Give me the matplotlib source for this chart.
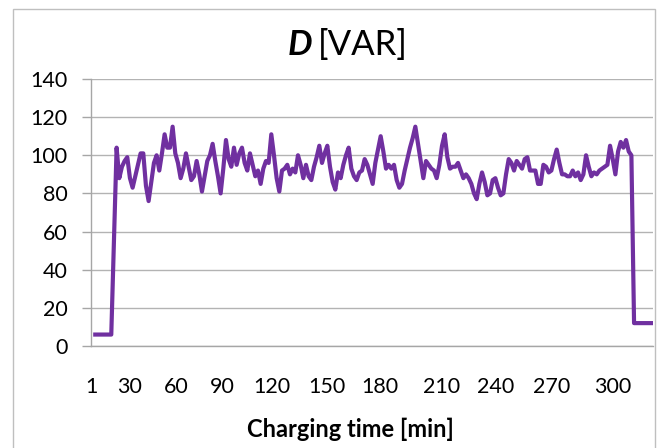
import numpy as np
import matplotlib.pyplot as plt
from matplotlib.patches import Rectangle

plt.rcParams['font.family'] = ['Lato', 'DejaVu Sans']

# D [VAR], one sample per category
start_flat = [6, 6, 6, 6, 6, 6, 6, 55]
charging = [
    104, 88, 94, 97, 99, 88, 83, 89, 95, 101,
    101, 84, 76, 86, 96, 100, 92, 101, 111, 104,
    104, 115, 101, 96, 88, 93, 101, 94, 87, 89,
    97, 90, 81, 89, 97, 100, 106, 97, 89, 80,
    93, 108, 98, 94, 104, 95, 101, 104, 96, 92,
    101, 95, 89, 92, 85, 93, 97, 96, 111, 100,
    88, 81, 92, 93, 95, 90, 93, 91, 100, 95,
    88, 95, 89, 87, 94, 99, 105, 96, 101, 105,
    94, 86, 82, 91, 88, 95, 100, 104, 93, 89,
    87, 91, 92, 98, 95, 90, 85, 96, 103, 110,
    102, 93, 95, 93, 95, 87, 83, 85, 92, 98,
    104, 109, 115, 106, 97, 88, 97, 95, 93, 92,
    88, 95, 105, 111, 99, 93, 94, 94, 96, 92,
    88, 90, 88, 85, 80, 77, 85, 91, 86, 79,
    80, 87, 88, 83, 79, 80, 90, 98, 96, 92,
    97, 95, 93, 98, 99, 92, 92, 92, 85, 85,
    95, 94, 91, 92, 98, 103, 96, 90, 90, 89,
    89, 92, 89, 91, 87, 90, 100, 94, 89, 91,
    90, 92, 93, 94, 95, 105, 98, 90, 102, 107,
    104, 108, 102, 100,
]
end_flat = [12, 12, 12, 12, 12, 12, 12, 12]

values = start_flat + charging + end_flat
samples = np.arange(len(values))

# category positions where Excel put the time labels
tick_pos = [-1.6, 13.0, 30.2, 47.5, 66.2, 86.8, 106.7, 130.0, 150.2, 171.2, 194.1]
tick_lab = ["1", "30", "60", "90", "120", "150", "180", "210", "240", "270", "300"]

fig = plt.figure(figsize=(6.6, 4.48), dpi=100)
ax = fig.add_axes([91 / 660, 1 - 346 / 448, 562 / 660, 267 / 448])

# outer chart frame (bottom edge is cut off in the original)
fig.patches.append(Rectangle((13 / 660, -0.1), 641.5 / 660, 1.1 - 9 / 448,
                             transform=fig.transFigure, fill=False,
                             edgecolor="#BFBFBF", linewidth=1.0))

ax.plot(samples, values, color="#7030A0", linewidth=3.0, solid_joinstyle="round")

ax.set_xlim(-1.6, 209.1)
ax.set_ylim(0, 140)
ax.set_yticks(np.arange(0, 141, 20))
ax.set_xticks(tick_pos)
ax.set_xticklabels(tick_lab)

ax.grid(axis="y", color="#B3B3B3", linewidth=1.0)
ax.set_axisbelow(True)
for s in ["top", "right"]:
    ax.spines[s].set_visible(False)
for s in ["left", "bottom"]:
    ax.spines[s].set_color("#A6A6A6")
    ax.spines[s].set_linewidth(1.0)

ax.tick_params(axis="y", length=6.5, width=1.0, color="#A6A6A6", pad=10.5,
               labelsize=15.5, labelcolor="black")
ax.tick_params(axis="x", length=0, pad=22, labelsize=15.5, labelcolor="black")

# title: italic bold D then plain [VAR]
fig.text(312 / 660, 1 - 55 / 448, "D", fontsize=25, fontweight="bold",
         style="italic", ha="right", va="baseline")
fig.text(318 / 660, 1 - 55 / 448, "[VAR]", fontsize=25, ha="left", va="baseline")

fig.text(350 / 660, 1 - 437 / 448, "Charging time [min]", fontsize=17,
         fontweight="bold", ha="center", va="baseline")

fig.savefig("out.png", dpi=100)
